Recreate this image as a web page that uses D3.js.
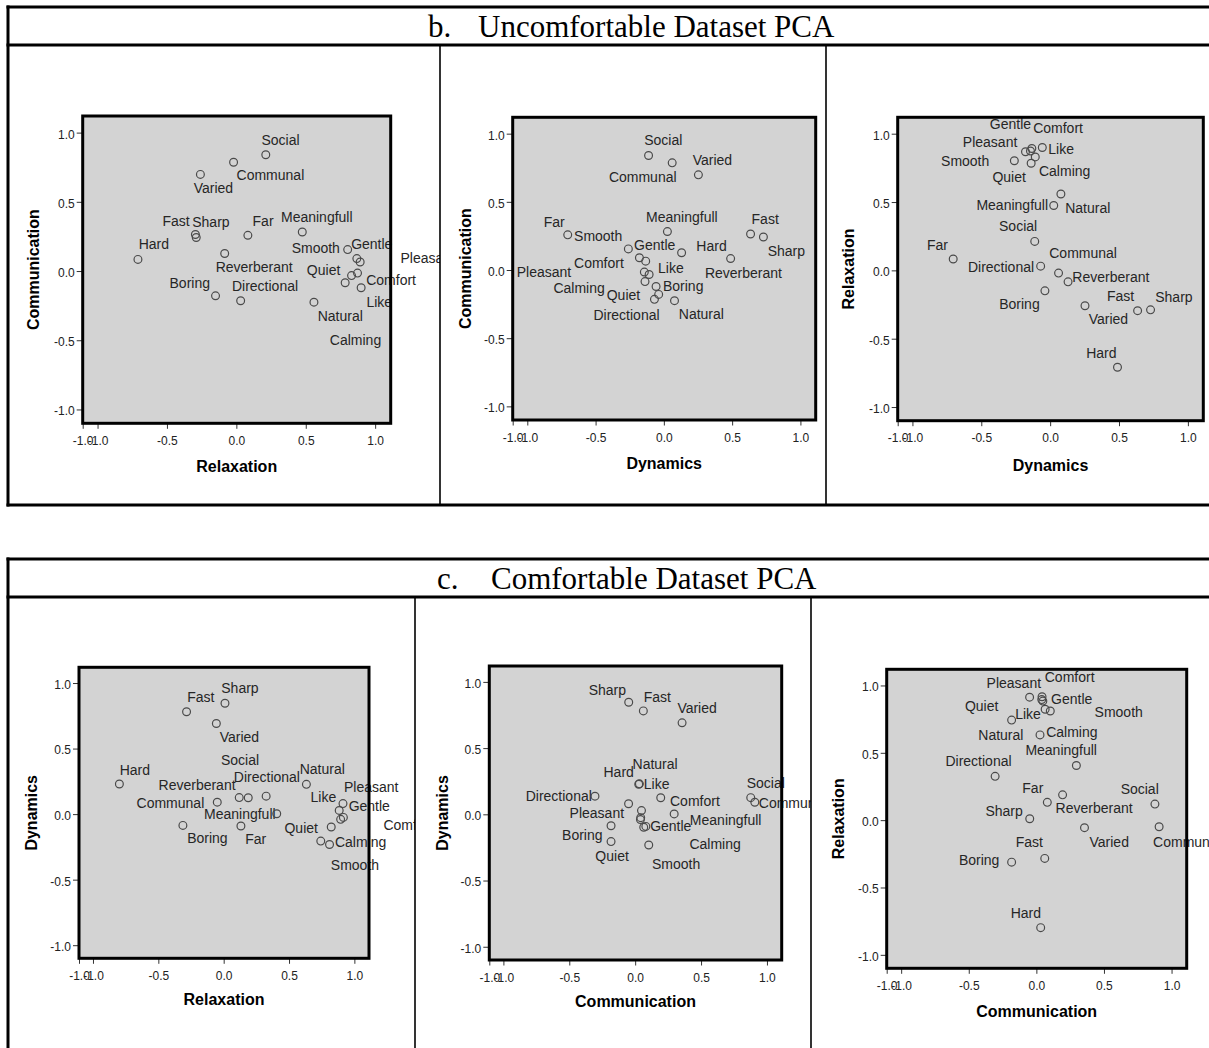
<!DOCTYPE html>
<html><head><meta charset="utf-8">
<script src="https://cdn.jsdelivr.net/npm/d3@7"></script>
<style>body{margin:0;background:#fff}svg{display:block}</style>
</head><body>
<svg id="chart" width="1209" height="1048"></svg>
<script>
// ---------- DATA ----------
const terms = ["Social","Communal","Varied","Fast","Sharp","Far","Meaningfull","Hard","Reverberant",
  "Smooth","Gentle","Pleasant","Comfort","Calming","Quiet","Like","Boring","Directional","Natural"];

// b. Uncomfortable dataset component loadings
const bRelaxation    = [0.212,-0.020,-0.259,-0.295,-0.289,0.083,0.475,-0.709,-0.084,0.802,0.868,0.892,0.873,0.830,0.784,0.899,-0.150,0.031,0.559];
const bCommunication = [0.840,0.786,0.698,0.264,0.242,0.258,0.282,0.084,0.127,0.155,0.090,0.065,-0.015,-0.033,-0.085,-0.121,-0.179,-0.215,-0.225];
const bDynamics      = [-0.112,0.061,0.253,0.635,0.729,-0.704,0.026,0.489,0.130,-0.260,-0.179,-0.133,-0.143,-0.108,-0.138,-0.057,-0.038,-0.069,0.078];

// c. Comfortable dataset component loadings
const cRelaxation    = [0.119,-0.049,-0.056,-0.284,0.010,0.132,0.406,-0.798,0.188,0.810,0.895,0.913,0.916,0.823,0.743,0.884,-0.312,0.325,0.633];
const cDynamics      = [0.126,0.091,0.691,0.781,0.846,-0.091,0.003,0.230,0.125,-0.232,-0.040,0.080,-0.025,-0.098,-0.206,0.028,-0.086,0.137,0.227];
const cCommunication = [0.877,0.908,0.356,0.062,-0.049,0.081,0.296,0.032,0.194,0.103,0.040,-0.050,0.042,0.065,-0.183,0.048,-0.183,-0.305,0.027];

const yTickValues = [-1.0,-0.5,0.0,0.5,1.0];
const yTickLabels = ["-1.0","-0.5","0.0","0.5","1.0"];
const xTickValues = [-1.107,-1.0,-0.5,0.0,0.5,1.0];
const xTickLabels = ["-1.0","-1.0","-0.5","0.0","0.5","1.0"];
const axisDomainX = [-1.107, 1.112];
const axisDomainY = [-1.10, 1.12];

const sectionLetters = ["b.","c."];
const sectionNames = ["Uncomfortable Dataset PCA","Comfortable Dataset PCA"];

// ---------- LAYOUT (pixel geometry & label placement) ----------
const labelOffsets = {
 p1:[[-4.3,-9.5],[3,17.5],[-6.7,18.5],[-33,-8],[-4,-10.5],[4.7,-9],[-21.3,-10],[0.7,-10.7],[-9,19],[-56,3.3],[-5.7,-10],[40.3,1],[8.7,11.7],[-21.7,69],[-38.3,-7.7],[5.3,19.3],[-46,-7.5],[-8.7,-10],[3.7,18.7]],
 p2:[[-4.3,-10],[-63.3,19],[-5.7,-9.7],[1,-9.7],[4.3,18.5],[-24,-8.3],[-21.3,-10],[-34.3,-7.3],[23.3,25.3],[-54.3,-7.7],[-5.3,-7.7],[-129,15.7],[-70.3,-4.3],[-95.7,18.5],[-38.3,18],[2,-14],[4.3,-3],[-61,20.5],[4.3,18.7]],
 p3:[[-35.7,-10.7],[-9.3,-14.7],[3.7,18.7],[-30.7,-9.7],[4.7,-8],[-26.3,-8.7],[-77.3,5],[-31.3,-9.7],[4.3,0],[-73.3,5.7],[-35.7,-23],[-69,-1.7],[2.7,-17.7],[3.7,19.5],[-38.7,18.7],[6,6.3],[-45.7,18.5],[-72.7,6],[4.3,19]],
 p4:[[-18.3,-33],[-80.7,6],[3.3,18.3],[0.7,-9.7],[-3.7,-10.5],[4.3,17.7],[-72.7,5],[0.3,-9.3],[-89.7,-7.3],[1.3,25.3],[8,-8],[1,-11.7],[40,12.3],[3.7,20.5],[-36.3,-8],[-28.7,-8.3],[4.3,17.5],[-32.3,-14.3],[-6.7,-10.3]],
 p5:[[-4,-10],[4,5.3],[-4.7,-10],[0.3,-9.3],[-40,-7.5],null,[15.7,11.5],[-35.9,-7],null,[3.3,23.7],[9.7,11.7],[-59,14.3],[29.3,-11.3],[45.7,21.5],[-15.7,19.3],[2.3,-22],[-49,14.5],[-69.3,4.7],[-6.2,-15]],
 p6:[[-34.3,-9.7],[-6,20],[5,19.3],[-29,-11],[-44.3,-2.5],[-25,-9.3],[-51,-10],[-30,-9.3],[-7,18.5],[44.3,6],[9.3,4.7],[-43,-9.3],[2.7,-15],[1,27.5],[-46.7,-9.3],[-27.7,18.3],[-52.7,3.3],[-49.7,-10],[-61.7,5.3]]
};

const panels = [
 {id:"p1", xName:"Relaxation",    yName:"Communication", xs:bRelaxation,    ys:bCommunication, frame:[82.7,390.7,116,423.3],   cell:[9.5,440,46.5,503.5],  xTitleY:472,   yTitleX:33.3},
 {id:"p2", xName:"Dynamics",      yName:"Communication", xs:bDynamics,      ys:bCommunication, frame:[512.7,815.7,117.3,420], cell:[440,826,46.5,503.5],  xTitleY:468.5, yTitleX:465},
 {id:"p3", xName:"Dynamics",      yName:"Relaxation",    xs:bDynamics,      ys:bRelaxation,    frame:[897.7,1203.3,117.3,420.7], cell:[826,1209,46.5,503.5], xTitleY:470.5, yTitleX:848.3},
 {id:"p4", xName:"Relaxation",    yName:"Dynamics",      xs:cRelaxation,    ys:cDynamics,      frame:[79,369,667.3,958.3],    cell:[9.5,415,598.5,1048],  xTitleY:1004.5, yTitleX:31.7},
 {id:"p5", xName:"Communication", yName:"Dynamics",      xs:cCommunication, ys:cDynamics,      frame:[489.3,781.7,666,960],   cell:[415,811,598.5,1048],  xTitleY:1007,  yTitleX:442.7},
 {id:"p6", xName:"Communication", yName:"Relaxation",    xs:cCommunication, ys:cRelaxation,    frame:[886.7,1186.7,669.3,968.3], cell:[811,1209,598.5,1048], xTitleY:1017, yTitleX:838.3}
];

const SANS = 'Arial, "Liberation Sans", sans-serif';
const SERIF = '"Times New Roman", "Liberation Serif", serif';

const svg = d3.select("#chart");
const defs = svg.append("defs");

panels.forEach(p => {
  const [fl, fr, ft, fb] = p.frame;
  const x = d3.scaleLinear().domain(axisDomainX).range([fl, fr]);
  const y = d3.scaleLinear().domain(axisDomainY).range([fb, ft]);
  const [cl, cr, ct, cb] = p.cell;
  defs.append("clipPath").attr("id", "clip-" + p.id)
    .append("rect").attr("x", cl).attr("y", ct).attr("width", cr - cl).attr("height", cb - ct);
  const g = svg.append("g").attr("clip-path", `url(#clip-${p.id})`);

  // data region
  g.append("rect").attr("x", x(axisDomainX[0])).attr("y", y(axisDomainY[1]))
    .attr("width", x(axisDomainX[1]) - x(axisDomainX[0]))
    .attr("height", y(axisDomainY[0]) - y(axisDomainY[1]))
    .attr("fill", "#d3d3d3");

  const pts = terms.map((t, i) => ({t, xv: p.xs[i], yv: p.ys[i], off: labelOffsets[p.id][i]}));

  // labels
  g.append("g").selectAll("text").data(pts.filter(d => d.off)).join("text")
    .attr("x", d => x(d.xv) + d.off[0])
    .attr("y", d => y(d.yv) + d.off[1])
    .attr("font-family", SANS).attr("font-size", 14).attr("fill", "#262626")
    .text(d => d.t);

  // points
  g.append("g").selectAll("circle").data(pts).join("circle")
    .attr("cx", d => x(d.xv)).attr("cy", d => y(d.yv)).attr("r", 3.9)
    .attr("fill", "none").attr("stroke", "#4a4a4a").attr("stroke-width", 1.2);

  // axes
  const ax = g.append("g").attr("transform", `translate(0,${fb})`)
    .call(d3.axisBottom(x).tickValues(xTickValues).tickFormat((d, i) => xTickLabels[i]).tickSize(5.5).tickPadding(7.5));
  const ay = g.append("g").attr("transform", `translate(${fl},0)`)
    .call(d3.axisLeft(y).tickValues(yTickValues).tickFormat((d, i) => yTickLabels[i]).tickSize(6).tickPadding(2));
  [ax, ay].forEach(a => {
    a.select(".domain").remove();
    a.selectAll("line").attr("stroke", "#333");
    a.selectAll("text").attr("font-family", SANS).attr("font-size", 12).attr("fill", "#222");
  });
  ay.selectAll("text").attr("dy", "0.45em");

  // frame
  g.append("rect").attr("x", fl).attr("y", ft).attr("width", fr - fl).attr("height", fb - ft)
    .attr("fill", "none").attr("stroke", "#000").attr("stroke-width", 3);

  // axis titles
  g.append("text").attr("x", (fl + fr) / 2).attr("y", p.xTitleY)
    .attr("text-anchor", "middle").attr("font-family", SANS).attr("font-weight", "bold")
    .attr("font-size", 16).attr("fill", "#000").text(p.xName);
  g.append("text").attr("transform", `translate(${p.yTitleX + 5.7},${(ft + fb) / 2}) rotate(-90)`)
    .attr("text-anchor", "middle").attr("font-family", SANS).attr("font-weight", "bold")
    .attr("font-size", 16).attr("fill", "#000").text(p.yName);
});

// ---------- table frame ----------
const tables = [
  {top:7, titleLine:45, bottom:505, cols:[440,826], letterX:428, nameX:478, baseline:37},
  {top:559, titleLine:597, bottom:null, cols:[415,811], letterX:437, nameX:491, baseline:589}
];
const lines = svg.append("g").attr("stroke", "#000");
tables.forEach((tb, i) => {
  const yEnd = tb.bottom === null ? 1048 : tb.bottom;
  [tb.top, tb.titleLine].concat(tb.bottom === null ? [] : [tb.bottom]).forEach(yy =>
    lines.append("line").attr("x1", 6.5).attr("x2", 1209).attr("y1", yy).attr("y2", yy).attr("stroke-width", 3));
  lines.append("line").attr("x1", 8).attr("x2", 8).attr("y1", tb.top - 1.5).attr("y2", yEnd + (tb.bottom === null ? 0 : 1.5)).attr("stroke-width", 3);
  tb.cols.forEach(cx => lines.append("line").attr("x1", cx).attr("x2", cx)
    .attr("y1", tb.titleLine).attr("y2", yEnd).attr("stroke-width", 1.6));
  svg.append("text").attr("x", tb.letterX).attr("y", tb.baseline)
    .attr("font-family", SERIF).attr("font-size", 31).attr("fill", "#000").text(sectionLetters[i]);
  svg.append("text").attr("x", tb.nameX).attr("y", tb.baseline)
    .attr("font-family", SERIF).attr("font-size", 31).attr("fill", "#000").text(sectionNames[i]);
});
</script>
</body></html>
